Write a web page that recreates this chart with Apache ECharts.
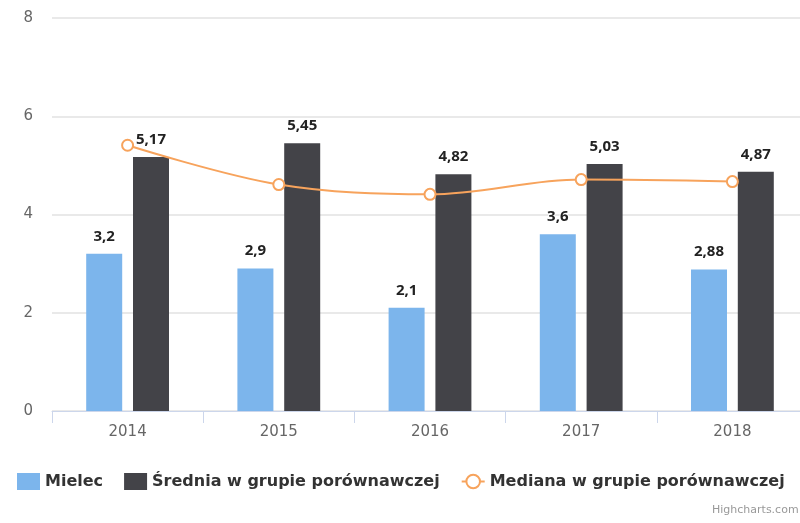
<!DOCTYPE html>
<html>
<head>
<meta charset="utf-8">
<script src="https://cdn.jsdelivr.net/npm/echarts@6/dist/echarts.min.js"></script>
<style>
html, body { margin: 0; padding: 0; background: #fff; overflow: hidden; }
#main { width: 808px; height: 523px; }
</style>
</head>
<body>
<div id="main"></div>
<script>
var years = ['2014', '2015', '2016', '2017', '2018'];
var mielec = [3.2, 2.9, 2.1, 3.6, 2.88];
var srednia = [5.17, 5.45, 4.82, 5.03, 4.87];
var mediana = [5.41, 4.61, 4.41, 4.71, 4.67];
var yTicks = [0, 2, 4, 6, 8];

var fontFam = '"DejaVu Sans", "Noto Sans", sans-serif';

function plLabel(p) {
    return String(p.value).replace('.', ',');
}

var barLabel = {
    show: true,
    position: 'top',
    distance: 10,
    formatter: plLabel,
    color: '#222',
    fontSize: 15,
    fontWeight: 'bold',
    fontFamily: '"Noto Sans", sans-serif',
    textBorderColor: '#fff',
    textBorderWidth: 2
};

var myChart = echarts.init(document.getElementById('main'));
option = {
    backgroundColor: '#fff',
    animation: false,
    grid: {
        left: 52,
        right: 0,
        top: 18,
        bottom: 112
    },
    legend: {
        left: 17,
        top: 473,
        padding: 0,
        itemWidth: 23,
        itemHeight: 17,
        itemGap: 21,
        textStyle: {
            color: '#333',
            fontSize: 16,
            fontWeight: 'bold',
            fontFamily: fontFam
        },
        data: [
            { name: 'Mielec', icon: 'rect' },
            { name: 'Średnia w grupie porównawczej', icon: 'rect' },
            { name: 'Mediana w grupie porównawczej' }
        ]
    },
    xAxis: {
        type: 'category',
        data: years,
        axisLine: { lineStyle: { color: '#ccd6eb', width: 1 } },
        axisTick: { show: true, length: 12, lineStyle: { color: '#ccd6eb' } },
        axisLabel: { color: '#666', fontSize: 15, margin: 14, fontFamily: fontFam }
    },
    yAxis: {
        type: 'value',
        min: yTicks[0],
        max: yTicks[yTicks.length - 1],
        interval: 2,
        axisLine: { show: false },
        axisTick: { show: false },
        splitLine: { lineStyle: { color: '#e9e9e9', width: 2 } },
        axisLabel: { color: '#666', fontSize: 15, margin: 19, fontFamily: fontFam }
    },
    series: [
        {
            name: 'Mielec',
            type: 'bar',
            data: mielec,
            barWidth: 36,
            barGap: '30%',
            itemStyle: { color: '#7cb5ec' },
            label: barLabel
        },
        {
            name: 'Średnia w grupie porównawczej',
            type: 'bar',
            data: srednia,
            barWidth: 36,
            itemStyle: { color: '#434348' },
            label: barLabel
        },
        {
            name: 'Mediana w grupie porównawczej',
            type: 'line',
            data: mediana,
            smooth: 0.35,
            symbol: 'circle',
            symbolSize: 11,
            z: 5,
            lineStyle: { color: '#f7a35c', width: 2 },
            itemStyle: { color: '#fff', borderColor: '#f7a35c', borderWidth: 2 }
        }
    ],
    graphic: [
        {
            type: 'text',
            left: 712,
            top: 505,
            style: {
                text: 'Highcharts.com',
                fill: '#999',
                fontSize: 11,
                fontFamily: fontFam
            }
        }
    ]
};
myChart.setOption(option);
window.onresize = myChart.resize;
</script>
</body>
</html>
